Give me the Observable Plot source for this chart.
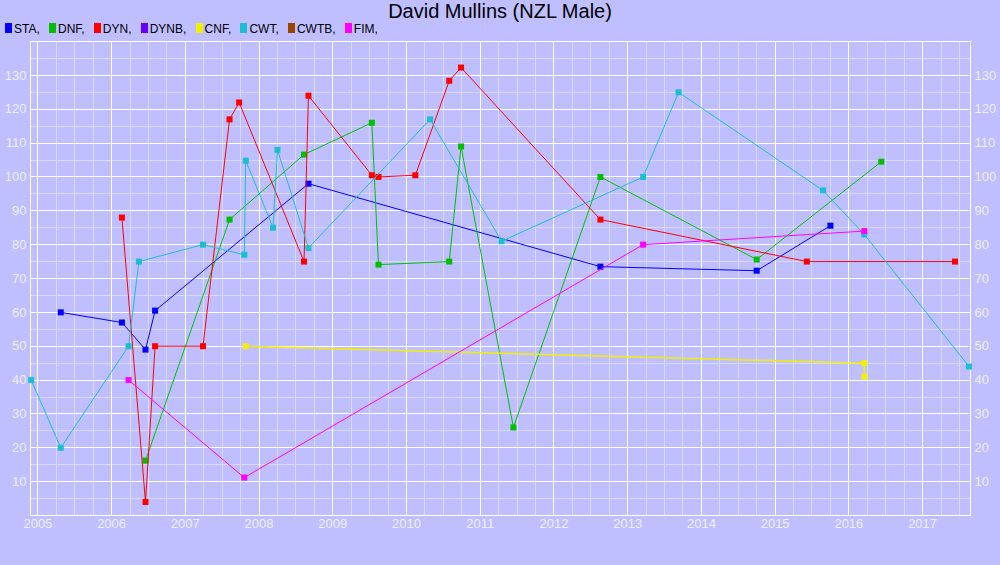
<!DOCTYPE html>
<html>
<head>
<meta charset="utf-8">
<script src="https://cdn.jsdelivr.net/npm/d3@7"></script>
<script src="https://cdn.jsdelivr.net/npm/@observablehq/plot@0.6"></script>
<style>
  html, body { margin: 0; padding: 0; }
  body { width: 1000px; height: 565px; overflow: hidden; background: #BFBFFF;
         font-family: "Liberation Sans", Arial, sans-serif; }
  #title { height: 20px; line-height: 22px; font-size: 20px; text-align: center; color: #000; white-space: nowrap; }
  #legend { box-sizing: border-box; height: 16px; padding-top: 2px; padding-left: 5px; line-height: 14px;
            font-size: 12px; color: #000; white-space: nowrap; }
  .item { display: inline-block; margin-right: 9.2px; }
  .sw { display: inline-block; width: 7px; height: 10px; margin-right: 2px; vertical-align: baseline; }
  #chart svg { display: block; }
</style>
</head>
<body>
<div id="title">David Mullins (NZL Male)</div>
<div id="legend"></div>
<div id="chart"></div>
<script>
// ---- data ----
const seriesNames  = ["STA", "DNF", "DYN", "DYNB", "CNF", "CWT", "CWTB", "FIM"];
const seriesColors = ["#0000FF", "#00C000", "#FF0000", "#6600FF", "#F0F000", "#1EBED2", "#994400", "#FF00FF"];

const staYears  = [2005.31, 2006.14, 2006.46, 2006.59, 2008.67, 2012.63, 2014.75, 2015.75];
const staValues = [60, 57, 49, 60.5, 98, 73.5, 72.3, 85.6];

const dnfYears  = [2006.46, 2007.60, 2008.61, 2009.53, 2009.62, 2010.58, 2010.74, 2011.45, 2012.63, 2014.75, 2016.44];
const dnfValues = [16.2, 87.4, 106.6, 116, 74.1, 75, 109, 26, 100, 75.6, 104.5];

const dynYears  = [2006.14, 2006.46, 2006.59, 2007.24, 2007.60, 2007.73, 2008.61, 2008.67, 2009.53, 2009.62, 2010.12, 2010.58, 2010.74, 2012.63, 2015.43, 2017.44];
const dynValues = [88, 4, 50, 50, 117, 122, 75, 124, 100.5, 100, 100.5, 128.4, 132.3, 87.4, 75, 75];

const dynbYears = [];
const dynbValues = [];

const cnfYears  = [2007.82, 2016.21, 2016.21];
const cnfValues = [50, 45, 41];

const cwtYears  = [2004.91, 2005.31, 2006.23, 2006.37, 2007.24, 2007.80, 2007.82, 2008.19, 2008.25, 2008.67, 2010.32, 2011.29, 2013.21, 2013.69, 2015.65, 2016.21, 2017.63];
const cwtValues = [40, 20, 50, 75, 80, 77, 104.8, 85, 108, 79, 117, 81, 100, 125, 96, 83, 44];

const cwtbYears = [];
const cwtbValues = [];

const fimYears  = [2006.23, 2007.80, 2013.21, 2016.21];
const fimValues = [40, 11.2, 80, 84];

const xTicks = [2005, 2006, 2007, 2008, 2009, 2010, 2011, 2012, 2013, 2014, 2015, 2016, 2017];
const yTicks = [10, 20, 30, 40, 50, 60, 70, 80, 90, 100, 110, 120, 130];

// ---- build ----
const allYears  = [staYears, dnfYears, dynYears, dynbYears, cnfYears, cwtYears, cwtbYears, fimYears];
const allValues = [staValues, dnfValues, dynValues, dynbValues, cnfValues, cwtValues, cwtbValues, fimValues];

const legend = document.getElementById("legend");
seriesNames.forEach((n, i) => {
  const it = document.createElement("span");
  it.className = "item";
  it.innerHTML = `<span class="sw" style="background:${seriesColors[i]}"></span>${n},`;
  legend.appendChild(it);
});

const xDomain = [2004.9, 2017.65];
const yDomain = [0, 140];
const minorX = d3.range(2005, 2017.65, 0.25);
const minorY = d3.range(5, 140, 5);

const marks = [
  Plot.ruleX(minorX, {stroke: "#D9D9FA", strokeWidth: 1, shapeRendering: "crispEdges"}),
  Plot.ruleY(minorY, {stroke: "#D9D9FA", strokeWidth: 1, shapeRendering: "crispEdges"}),
  Plot.ruleX(xTicks, {stroke: "#FFFFFF", strokeWidth: 1, shapeRendering: "crispEdges"}),
  Plot.ruleY(yTicks, {stroke: "#FFFFFF", strokeWidth: 1, shapeRendering: "crispEdges"}),
  Plot.frame({stroke: "#FFFFFF", strokeWidth: 1, shapeRendering: "crispEdges"}),
  Plot.axisX({ticks: xTicks, tickFormat: d => String(d), tickSize: 0, tickPadding: 3, label: null, fill: "#EEEEFF", fontSize: 13}),
  Plot.axisY({anchor: "left", ticks: yTicks, tickSize: 0, tickPadding: 4, label: null, fill: "#EEEEFF", fontSize: 13}),
  Plot.axisY({anchor: "right", ticks: yTicks, tickSize: 0, tickPadding: 4, label: null, fill: "#EEEEFF", fontSize: 13})
];

seriesNames.forEach((n, i) => {
  const rows = allYears[i].map((x, j) => ({x, y: allValues[i][j]}));
  if (!rows.length) return;
  marks.push(Plot.line(rows, {x: "x", y: "y", stroke: seriesColors[i], strokeWidth: n === "CNF" ? 1.5 : 1}));
  marks.push(Plot.dot(rows, {x: "x", y: "y", symbol: "square", r: 3.4, fill: seriesColors[i], stroke: "none"}));
});

const chart = Plot.plot({
  width: 1000,
  height: 529,
  marginTop: 5,
  marginBottom: 50,
  marginLeft: 30,
  marginRight: 30,
  x: {domain: xDomain},
  y: {domain: yDomain},
  style: {background: "transparent", fontFamily: "'Liberation Sans', Arial, sans-serif", fontSize: "13px"},
  marks
});
document.getElementById("chart").appendChild(chart);
</script>
</body>
</html>
